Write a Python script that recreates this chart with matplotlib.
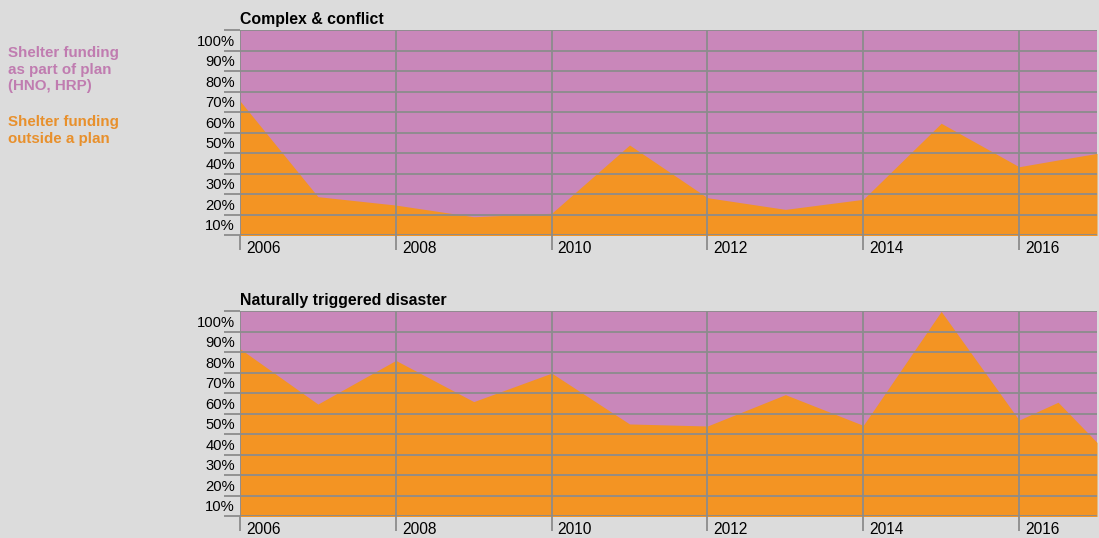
import numpy as np
import matplotlib
matplotlib.use('Agg')
import matplotlib.pyplot as plt
from matplotlib.transforms import ScaledTranslation

# data (share of shelter funding outside a plan, %)
years = [2006, 2007, 2008, 2009, 2010, 2011, 2012, 2013, 2014, 2015, 2016, 2016.5, 2017]
complex_outside = [70.4, 23.7, 19.6, 13.9, 15.6, 48.9, 23.2, 17.5, 22.4, 59.5, 38.3, 41.6, 44.8]
natural_outside = [86.6, 59.6, 80.9, 60.8, 74.7, 49.9, 48.9, 64.2, 49.2, 104.8, 51.8, 60.5, 40.9]
panel_titles = ['Complex & conflict', 'Naturally triggered disaster']
year_ticks = [2006, 2008, 2010, 2012, 2014, 2016]
pct_ticks = [10, 20, 30, 40, 50, 60, 70, 80, 90, 100]

bg = '#dcdcdc'
purple = '#c987ba'
orange = '#f39423'
grid = '#8c8c8c'

plt.rcParams['font.family'] = ['Liberation Sans', 'DejaVu Sans']

fig = plt.figure(figsize=(10.99, 5.38), dpi=100, facecolor=bg)
left, width, height = 240 / 1099, 857 / 1099, 205 / 538
bottoms = [1 - 235 / 538, 1 - 516 / 538]

for title, vals, b in zip(panel_titles, [complex_outside, natural_outside], bottoms):
    ax = fig.add_axes([left, b, width, height])
    ax.set_facecolor(purple)
    ax.fill_between(years, 0, vals, color=orange, lw=0, zorder=1)
    ax.set_xlim(2006, 2017)
    ax.set_ylim(5, 105)

    # gridlines on the band edges, labels in the middle of the bands
    ax.set_yticks(np.arange(5, 106, 10))
    ax.set_yticklabels([])
    ax.set_yticks(pct_ticks, minor=True)
    ax.set_yticklabels([f'{p}%' for p in pct_ticks], minor=True)
    ax.tick_params(axis='y', which='major', length=11.5, width=1.3, color=grid)
    ax.tick_params(axis='y', which='minor', length=0, pad=3.6, labelsize=10.6)

    ax.set_xticks(year_ticks)
    ax.set_xticklabels([str(y) for y in year_ticks])
    ax.tick_params(axis='x', length=10.8, width=1.3, color=grid, pad=-6.5, labelsize=11.2)
    off = ScaledTranslation(6 / 100, 0, fig.dpi_scale_trans)
    for lbl in ax.get_xticklabels():
        lbl.set_horizontalalignment('left')
        lbl.set_transform(lbl.get_transform() + off)

    ax.grid(True, which='major', color=grid, lw=1.3)
    ax.set_axisbelow(False)
    for s in ax.spines.values():
        s.set_visible(False)
    ax.set_title(title, loc='left', fontsize=11.4, fontweight='bold', pad=4.5)

fig.text(8 / 1099, 1 - 46 / 538, 'Shelter funding\nas part of plan\n(HNO, HRP)',
         color='#c07cb0', fontsize=10.9, fontweight='bold', va='top', ha='left', linespacing=1.23)
fig.text(8 / 1099, 1 - 115 / 538, 'Shelter funding\noutside a plan',
         color='#e8902c', fontsize=10.9, fontweight='bold', va='top', ha='left', linespacing=1.23)

fig.savefig('out.png', dpi=100, facecolor=bg)
